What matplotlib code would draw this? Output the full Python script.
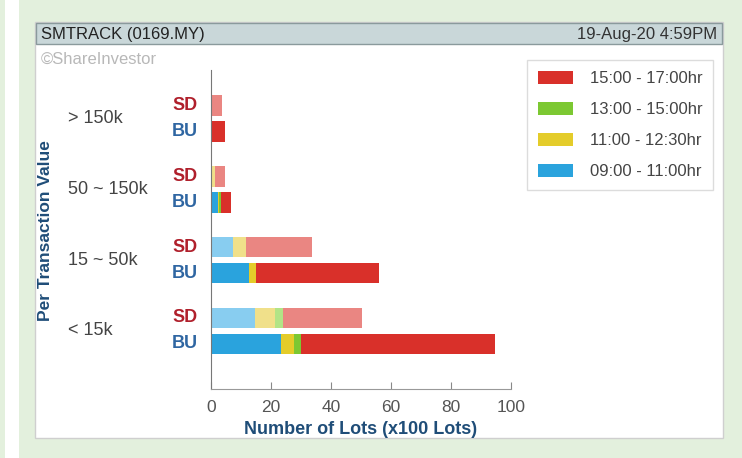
import matplotlib.pyplot as plt
import matplotlib.transforms as mtransforms
from matplotlib.patches import Rectangle
import numpy as np

plt.rcParams['font.family'] = ['Liberation Sans', 'DejaVu Sans']

# values (x100 lots), bottom group first
categories = ["< 15k", "15 ~ 50k", "50 ~ 150k", "> 150k"]
periods = ["09:00 - 11:00hr", "11:00 - 12:30hr", "13:00 - 15:00hr", "15:00 - 17:00hr"]
bu_0900 = [23.4, 12.7, 2.4, 0.0]
bu_1100 = [4.4, 2.2, 0.4, 0.0]
bu_1300 = [2.1, 0.0, 0.6, 0.0]
bu_1500 = [64.7, 41.1, 3.3, 4.7]
sd_0900 = [14.8, 7.3, 0.0, 0.0]
sd_1100 = [6.4, 4.2, 1.2, 0.0]
sd_1300 = [2.8, 0.0, 0.0, 0.0]
sd_1500 = [26.2, 22.0, 3.3, 3.7]

colors = ["#2aa3dd", "#e4cc2a", "#7cc832", "#d9302a"]
sd_colors = ["#88cdf0", "#f0e08a", "#b2e486", "#ea8682"]

fig = plt.figure(figsize=(7.42, 4.58), dpi=100)
fig.patch.set_facecolor("#e3f0dd")

W, H = 742, 458
def px(x0, y0, x1, y1, **kw):
    # rectangle given in pixel coords (top-left origin)
    fig.patches.append(Rectangle((x0 / W, 1 - y1 / H), (x1 - x0) / W, (y1 - y0) / H,
                                 transform=fig.transFigure, zorder=-5, **kw))

px(5, 0, 19, 458, facecolor="white", edgecolor="none")
px(35, 22, 723, 438, facecolor="white", edgecolor="#cfcfcf", lw=1)
px(36, 23, 722, 44, facecolor="#c9d7d9", edgecolor="#8a9a9c", lw=1)
fig.text(41 / W, 1 - 34 / H, "SMTRACK (0169.MY)", fontsize=12, color="#222222", va="center")
fig.text(717 / W, 1 - 34 / H, "19-Aug-20 4:59PM", fontsize=12, color="#333333", va="center", ha="right")
fig.text(41 / W, 1 - 59 / H, "\u00a9ShareInvestor", fontsize=12, color="#b8b8b8", va="center")

ax = fig.add_axes([211 / W, 1 - 389 / H, 300 / W, 319 / H])
ax.set_facecolor("none")

y = np.arange(len(categories))
off = 0.183
h = 0.29
bu = [bu_0900, bu_1100, bu_1300, bu_1500]
sd = [sd_0900, sd_1100, sd_1300, sd_1500]
left_bu = np.zeros(len(categories))
left_sd = np.zeros(len(categories))
handles = []
for i in range(4):
    b = ax.barh(y - off, bu[i], height=h, left=left_bu, color=colors[i], edgecolor="none")
    ax.barh(y + off, sd[i], height=h, left=left_sd, color=sd_colors[i], edgecolor="none")
    left_bu += np.array(bu[i])
    left_sd += np.array(sd[i])
    handles.append(b)

ax.set_xlim(0, 100)
ax.set_ylim(-0.82, 3.686)
ax.set_xticks([0, 20, 40, 60, 80, 100])
ax.set_yticks([])
ax.tick_params(axis="x", direction="in", length=5, color="#888888", labelcolor="#555555",
               labelsize=12.5, pad=8)
for s in ["top", "right"]:
    ax.spines[s].set_visible(False)
ax.spines["left"].set_color("#777777")
ax.spines["bottom"].set_color("#999999")

trans = mtransforms.blended_transform_factory(ax.transAxes, ax.transData)
for i, c in enumerate(categories):
    ax.text(-0.477, y[i], c, transform=trans, ha="left", va="center", fontsize=13, color="#444444")
    ax.text(-0.087, y[i] + off, "SD", transform=trans, ha="center", va="center",
            fontsize=13, fontweight="bold", color="#b0202c")
    ax.text(-0.087, y[i] - off, "BU", transform=trans, ha="center", va="center",
            fontsize=13, fontweight="bold", color="#2f66a2")

ax.set_xlabel("Number of Lots (x100 Lots)", fontsize=13, fontweight="bold", color="#1f4d78", labelpad=4)
fig.text(46 / W, 1 - 231 / H, "Per Transaction Value", rotation=90, fontsize=12.5, fontweight="bold",
         color="#1f4d78", ha="center", va="center")

leg = ax.legend(handles[::-1], periods[::-1], loc="upper left", bbox_to_anchor=(527 / W, 1 - 60 / H),
                bbox_transform=fig.transFigure, borderaxespad=0, fontsize=12, labelcolor="#444444",
                handlelength=2.1, handleheight=0.8, handletextpad=1.0, labelspacing=0.95,
                borderpad=0.65, fancybox=False, frameon=True)
leg.get_frame().set_edgecolor("#d4d4d4")
leg.get_frame().set_linewidth(1)

fig.savefig("out.png", dpi=100, facecolor=fig.get_facecolor())
